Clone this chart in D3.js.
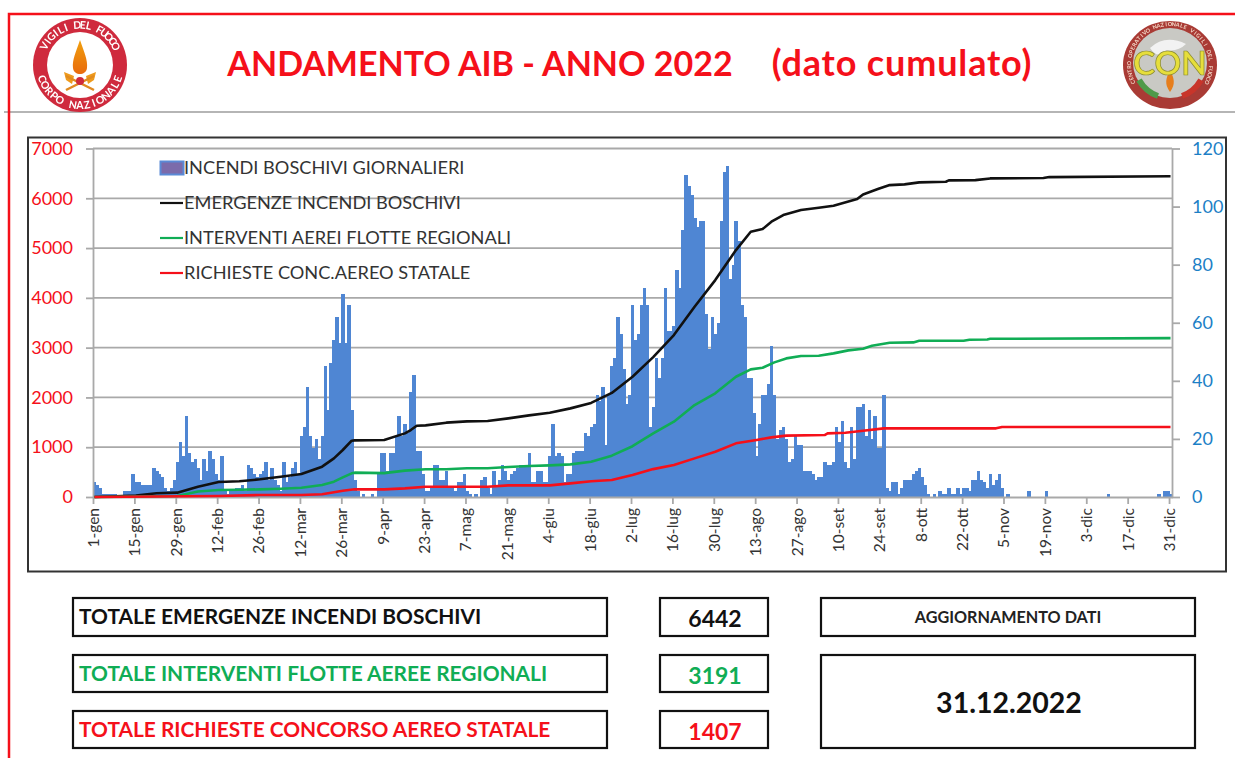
<!DOCTYPE html>
<html>
<head>
<meta charset="utf-8">
<script src="https://cdn.jsdelivr.net/npm/d3@7"></script>
<style>
    body { margin: 0; background: #fff; }
    text { font-family: Lato, "Open Sans", sans-serif; }
</style>
</head>
<body>
<div id="chart"></div>
<script>
// etichette asse x, una ogni 14 giorni
const tickLabels = ["1-gen","15-gen","29-gen","12-feb","26-feb","12-mar","26-mar","9-apr","23-apr","7-mag","21-mag","4-giu","18-giu","2-lug","16-lug","30-lug","13-ago","27-ago","10-set","24-set","8-ott","22-ott","5-nov","19-nov","3-dic","17-dic","31-dic"];
const leftTicks = [0,1000,2000,3000,4000,5000,6000,7000];
const rightTicks = [0,20,40,60,80,100,120];

// incendi giornalieri (asse destro), 14 valori per riga
const dailyFires = [
    5,4,3,1,1,1,1,1,0,0,2,2,2,8,
    5,5,4,4,4,4,10,9,8,7,3,2,3,6,
    12,19,14,28,15,12,13,10,6,13,9,16,13,8,
    6,14,2,1,2,2,3,3,4,2,11,10,8,7,
    8,9,12,6,10,6,4,2,12,5,7,10,12,8,
    21,24,38,21,17,20,13,21,45,30,46,54,62,53,
    70,53,66,30,6,2,0,1,0,0,1,0,8,15,
    15,9,15,15,21,28,21,25,22,36,42,16,16,8,
    2,2,3,11,11,6,6,9,3,3,2,5,5,8,
    2,1,0,1,0,6,7,3,1,9,4,6,11,9,
    6,8,9,10,11,11,11,15,5,5,9,9,5,5,
    14,25,14,15,14,5,8,8,15,16,16,16,22,21,
    24,25,35,33,38,18,35,45,48,62,56,44,32,35,
    66,54,56,66,72,66,24,31,48,41,48,72,57,57,
    59,78,72,92,111,107,104,96,93,95,95,63,51,62,
    56,60,95,112,114,75,80,95,88,66,62,41,41,29,
    14,25,35,35,39,52,35,20,23,24,20,12,13,21,
    18,18,9,9,9,8,6,7,7,12,11,11,12,24,
    19,26,12,10,24,13,31,31,32,21,30,20,28,17,
    17,35,3,2,5,5,1,3,6,6,6,8,9,10,
    7,4,1,0,1,0,2,1,1,3,1,1,3,1,
    3,3,2,6,6,9,6,5,3,8,4,6,8,3,
    0,1,0,0,0,0,0,0,2,0,0,0,0,0,
    2,0,0,0,0,0,0,0,0,0,0,0,0,0,
    0,0,0,0,0,0,0,1,0,0,0,0,0,0,
    0,0,0,0,0,0,0,0,0,0,1,0,2,2,
    1
];

const emergenzeDays = [0,14,21,28,35,42,49,56,63,70,77,81,84,87,88,98,105,107,109,112,119,126,133,140,147,154,161,168,175,182,189,196,203,210,217,222,226,229,233,239,245,250,258,260,265,269,274,279,288,289,298,303,321,323,364];
const emergenzeValues = [0,30,74,87,207,300,315,355,408,462,609,776,944,1131,1138,1145,1278,1345,1432,1439,1493,1519,1526,1580,1640,1693,1780,1890,2090,2416,2810,3253,3822,4357,4960,5328,5381,5529,5663,5763,5810,5850,5984,6078,6185,6265,6279,6319,6332,6359,6365,6399,6406,6426,6442];

const flotteDays = [0,28,35,42,49,56,63,70,77,81,84,87,88,98,105,112,119,126,133,140,147,154,161,168,175,182,189,196,203,210,217,222,226,230,234,239,245,250,255,260,263,269,277,279,294,296,302,303,364];
const flotteValues = [0,20,110,140,147,154,167,187,241,308,395,475,489,480,529,556,556,576,576,602,622,636,656,709,830,1020,1278,1513,1847,2082,2416,2564,2597,2704,2784,2831,2837,2885,2945,2978,3038,3098,3105,3138,3138,3158,3165,3178,3191];

const statoDays = [0,42,56,70,77,84,88,98,105,112,126,133,140,154,161,168,175,182,189,196,203,210,217,224,229,234,247,248,254,260,267,305,307,364];
const statoValues = [0,20,40,40,54,127,154,154,174,207,207,207,234,234,274,315,341,442,560,643,776,910,1078,1145,1198,1232,1245,1278,1292,1332,1379,1379,1406,1407];

const legendLabels = ["INCENDI BOSCHIVI GIORNALIERI","EMERGENZE INCENDI BOSCHIVI","INTERVENTI AEREI FLOTTE REGIONALI","RICHIESTE CONC.AEREO STATALE"];
const totalLabels = ["TOTALE EMERGENZE INCENDI BOSCHIVI","TOTALE INTERVENTI FLOTTE AEREE REGIONALI","TOTALE RICHIESTE CONCORSO AEREO STATALE"];
const totalValues = [6442,3191,1407];

const RED = "#f5101a", GREEN = "#10ad55", BLUE = "#4f86d3", RIGHT_BLUE = "#1c7fc6", BLACK = "#111";

const svg = d3.select("#chart").append("svg")
    .attr("width", 1235).attr("height", 758)
    .style("display", "block");

// cornice pagina
svg.append("line").attr("x1", 4).attr("x2", 1235).attr("y1", 112).attr("y2", 112).attr("stroke", "#b5b5b5").attr("stroke-width", 2);
svg.append("path").attr("d", "M9,758V14H1235").attr("fill", "none").attr("stroke", RED).attr("stroke-width", 2.5);

// titolo
svg.append("text").attr("x", 480).attr("y", 76).attr("text-anchor", "middle")
    .attr("font-size", 34).attr("font-weight", 700).attr("fill", RED)
    .text("ANDAMENTO AIB - ANNO 2022");
svg.append("text").attr("x", 902).attr("y", 76).attr("text-anchor", "middle")
    .attr("font-size", 36).attr("font-weight", 700).attr("letter-spacing", 0.85).attr("fill", RED)
    .text("(dato cumulato)");

// riquadro grafico
svg.append("rect").attr("x", 28).attr("y", 137.5).attr("width", 1198).attr("height", 434)
    .attr("fill", "none").attr("stroke", "#333").attr("stroke-width", 2);

// scale
const x = d3.scaleLinear().domain([0, 365]).range([93, 1172]);
const yLeft = d3.scaleLinear().domain([0, 7000]).range([497, 148.5]);
const yRight = d3.scaleLinear().domain([0, 120]).range([497, 148.5]);

// griglia
svg.append("g").selectAll("line").data(leftTicks.slice(1)).enter().append("line")
    .attr("x1", x(0)).attr("x2", x(365))
    .attr("y1", d => yLeft(d)).attr("y2", d => yLeft(d))
    .attr("stroke", "#a9a9a9").attr("stroke-width", 1.8);

// barre giornaliere
svg.append("g").attr("shape-rendering", "crispEdges")
    .selectAll("rect").data(dailyFires).enter().append("rect")
    .attr("x", (d, i) => x(i))
    .attr("y", d => yRight(d))
    .attr("width", x(1) - x(0) + 0.5)
    .attr("height", d => yRight(0) - yRight(d))
    .attr("fill", BLUE);

// assi
const styleAxis = (g, color, size) => {
    g.selectAll("path,line").attr("stroke", "#a9a9a9").attr("stroke-width", 1.8);
    g.selectAll("text").attr("fill", color).attr("font-size", size).style("font-family", "Lato");
};
svg.append("g").attr("transform", `translate(${x(0)},0)`)
    .call(d3.axisLeft(yLeft).tickValues(leftTicks).tickFormat(d3.format("d")).tickSize(7).tickSizeOuter(0).tickPadding(13))
    .call(g => styleAxis(g, RED, 18));
svg.append("g").attr("transform", `translate(${x(365)},0)`)
    .call(d3.axisRight(yRight).tickValues(rightTicks).tickSize(8).tickSizeOuter(0).tickPadding(12))
    .call(g => styleAxis(g, RIGHT_BLUE, 18));
svg.append("g").attr("transform", `translate(0,${yLeft(0)})`)
    .call(d3.axisBottom(x).tickValues(tickLabels.map((d, i) => i * 14)).tickFormat(d => tickLabels[d / 14]).tickSize(7).tickSizeOuter(0))
    .call(g => styleAxis(g, "#333", 15.5))
    .call(g => g.selectAll("text")
        .attr("transform", "rotate(-90)")
        .attr("text-anchor", "end")
        .attr("x", -11).attr("y", 0).attr("dy", "0.35em"));

// linee cumulate
const drawLine = (days, values, color) => {
    const line = d3.line().x(d => x(d + 0.5)).y((d, i) => yLeft(values[i]));
    svg.append("path").datum(days).attr("d", line)
        .attr("fill", "none").attr("stroke", color).attr("stroke-width", 2.6)
        .attr("stroke-linejoin", "round");
};
drawLine(emergenzeDays, emergenzeValues, BLACK);
drawLine(flotteDays, flotteValues, GREEN);
drawLine(statoDays, statoValues, RED);

// legenda
const legendY = [168, 203, 238, 273];
const legendColors = [null, BLACK, GREEN, RED];
legendLabels.forEach((label, i) => {
    if (i === 0) {
        svg.append("rect").attr("x", 160.5).attr("y", 161.5).attr("width", 23).attr("height", 13)
            .attr("fill", "#7b6bab").attr("stroke", "#5a8ad6").attr("stroke-width", 2);
    } else {
        svg.append("line").attr("x1", 160).attr("x2", 183).attr("y1", legendY[i]).attr("y2", legendY[i])
            .attr("stroke", legendColors[i]).attr("stroke-width", 2.2);
    }
    svg.append("text").attr("x", 184).attr("y", legendY[i]).attr("dy", "0.35em")
        .attr("font-size", 18.2).attr("fill", "#333").text(label);
});

// riquadri totali
const boxY = [598, 655, 711];
const boxH = [38, 37, 37];
const totalColors = [BLACK, GREEN, RED];
const box = (bx, by, w, h) => svg.append("rect").attr("x", bx).attr("y", by).attr("width", w).attr("height", h)
    .attr("fill", "#fff").attr("stroke", "#111").attr("stroke-width", 2.2);
totalLabels.forEach((label, i) => {
    box(73, boxY[i], 534, boxH[i]);
    box(660, boxY[i], 108, boxH[i]);
    svg.append("text").attr("x", 79).attr("y", boxY[i] + boxH[i] / 2).attr("dy", "0.35em")
        .attr("font-size", 20.9).attr("font-weight", 700).attr("fill", totalColors[i]).text(label);
    svg.append("text").attr("x", 715).attr("y", boxY[i] + boxH[i] / 2 + 2).attr("dy", "0.35em").attr("text-anchor", "middle")
        .attr("font-size", 23).attr("font-weight", 700).attr("fill", totalColors[i]).text(totalValues[i]);
});
box(821, 598, 374, 38);
box(821, 655, 374, 93);
svg.append("text").attr("x", 1008).attr("y", 617).attr("dy", "0.35em").attr("text-anchor", "middle")
    .attr("font-size", 16.2).attr("font-weight", 700).attr("fill", "#222").text("AGGIORNAMENTO DATI");
svg.append("text").attr("x", 1009).attr("y", 703).attr("dy", "0.35em").attr("text-anchor", "middle")
    .attr("font-size", 28.5).attr("font-weight", 700).attr("fill", "#111").text("31.12.2022");

// logo: scritte lettera per lettera lungo l'anello
const defs = svg.append("defs");
const flameGrad = defs.append("linearGradient").attr("id", "flame").attr("x1", 0).attr("x2", 0).attr("y1", 0).attr("y2", 1);
flameGrad.append("stop").attr("offset", "0%").attr("stop-color", "#f0a010");
flameGrad.append("stop").attr("offset", "100%").attr("stop-color", "#e96a10");
defs.append("filter").attr("id", "soft").append("feGaussianBlur").attr("stdDeviation", 0.5);

const ringText = (g, str, cx, cy, r, fromDeg, toDeg, size, color, inverted) => {
    const chars = str.split("");
    const angle = d3.scaleLinear().domain([0, chars.length - 1]).range([fromDeg, toDeg]);
    chars.forEach((c, i) => {
        if (c === " ") return;
        const a = angle(i);
        const rot = inverted ? a + 180 : a;
        const rad = (a - 90) * Math.PI / 180;
        g.append("text")
            .attr("transform", `translate(${cx + r * Math.cos(rad)},${cy + r * Math.sin(rad)}) rotate(${rot})`)
            .attr("text-anchor", "middle")
            .attr("font-size", size).attr("font-weight", 700).attr("fill", color).text(c);
    });
};

// logo vigili del fuoco
const logoL = svg.append("g").attr("filter", "url(#soft)");
logoL.append("circle").attr("cx", 80).attr("cy", 65).attr("r", 47).attr("fill", "#cf2a3c");
logoL.append("circle").attr("cx", 80).attr("cy", 65).attr("r", 33).attr("fill", "#fff");
logoL.append("path").attr("d", "M80,40C84,52 88,60 87,68C86,76 74,76 73,68C72,60 76,52 80,40Z").attr("fill", "url(#flame)");
logoL.append("path").attr("d", "M64,72L74,76L72,84L66,80ZM96,72L86,76L88,84L94,80Z").attr("fill", "#ee9a1c");
logoL.append("path").attr("d", "M66,90L94,76M94,90L66,76").attr("stroke", "#e08a20").attr("stroke-width", 2.5);
logoL.append("circle").attr("cx", 80).attr("cy", 81).attr("r", 4).attr("fill", "#cf2a3c");
ringText(logoL, "VIGILI DEL FUOCO", 80, 65, 36.5, -62, 62, 10.5, "#fff", false);
ringText(logoL, "CORPO NAZIONALE", 80, 65, 44, 250, 110, 10.5, "#fff", true);

// logo centro operativo
const logoR = svg.append("g").attr("filter", "url(#soft)");
logoR.append("ellipse").attr("cx", 1170).attr("cy", 65).attr("rx", 47).attr("ry", 44).attr("fill", "#a93a34");
logoR.append("ellipse").attr("cx", 1170).attr("cy", 63).attr("rx", 37).attr("ry", 35).attr("fill", "#c9c9c4");
logoR.append("path").attr("d", "M1150,48Q1165,34 1186,44Q1178,52 1166,50Q1158,60 1150,48Z").attr("fill", "#f2f2f2");
logoR.append("path").attr("d", "M1139,80Q1146,92 1158,96").attr("fill", "none").attr("stroke", "#4f9a4a").attr("stroke-width", 6);
logoR.append("path").attr("d", "M1201,80Q1194,92 1182,96").attr("fill", "none").attr("stroke", "#c8342c").attr("stroke-width", 6);
logoR.append("path").attr("d", "M1170,70C1174,78 1176,84 1170,92C1164,84 1166,78 1170,70Z").attr("fill", "#e67e1c");
logoR.append("text").attr("x", 1170).attr("y", 75).attr("text-anchor", "middle")
    .attr("font-size", 33).attr("font-weight", 700).attr("fill", "#e6de3a").attr("stroke", "#8a8a30").attr("stroke-width", 0.7).text("CON");
ringText(logoR, "CENTRO OPERATIVO NAZIONALE VIGILI DEL FUOCO", 1170, 65, 39, -115, 115, 5.5, "#f3d8c8", false);
</script>
</body>
</html>
